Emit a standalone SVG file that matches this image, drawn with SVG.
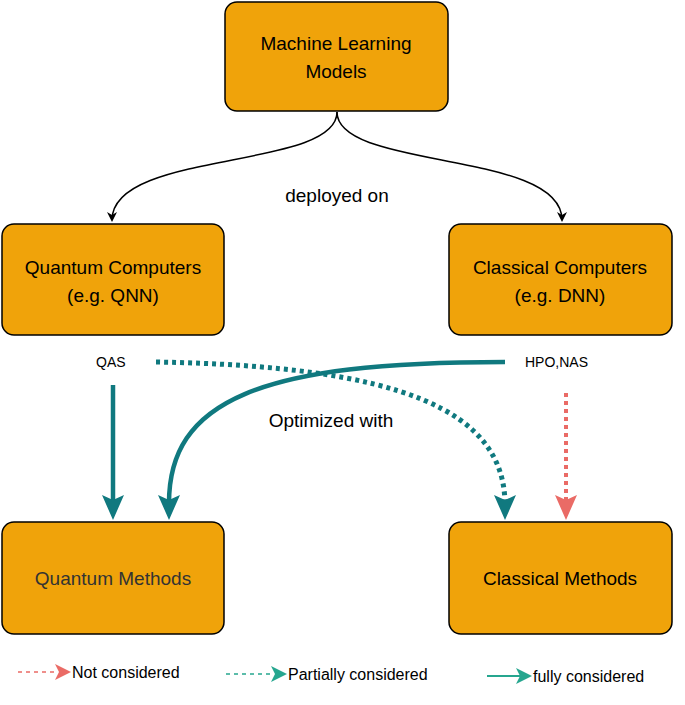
<svg xmlns="http://www.w3.org/2000/svg" width="685" height="705" viewBox="0 0 685 705">
<style>
.box{fill:#F0A30A;stroke:#000;stroke-width:1.5}
.t{font-family:"Liberation Sans",Arial,sans-serif;font-size:19px;fill:#000;text-anchor:middle}
.s{font-family:"Liberation Sans",Arial,sans-serif;font-size:15px;fill:#000}
.teal{fill:none;stroke:#10797F;stroke-width:4.5}
</style>
<defs>
<marker id="blk" markerWidth="10" markerHeight="10" refX="8" refY="5" orient="auto" markerUnits="userSpaceOnUse"><path d="M0,0 L10,5 L0,10 L3,5 Z" fill="#000"/></marker>
</defs>
<rect width="685" height="705" fill="#fff"/>
<g id="n-ml"><rect class="box" x="225" y="2" width="223" height="109" rx="12"/><text class="t" x="336" y="50">Machine Learning</text><text class="t" x="336" y="78">Models</text></g>
<g id="n-qc"><rect class="box" x="2" y="224" width="222" height="111" rx="12"/><text class="t" x="113" y="274">Quantum Computers</text><text class="t" x="113" y="302">(e.g. QNN)</text></g>
<g id="n-cc"><rect class="box" x="449" y="224" width="223" height="111" rx="12"/><text class="t" x="560" y="274">Classical Computers</text><text class="t" x="560" y="302">(e.g. DNN)</text></g>
<g id="n-qm"><rect class="box" x="2" y="522" width="222" height="112" rx="12"/><text class="t" x="113" y="585" fill="#333" style="fill:#333">Quantum Methods</text></g>
<g id="n-cm"><rect class="box" x="449" y="522" width="223" height="112" rx="12"/><text class="t" x="560" y="585">Classical Methods</text></g>
<g id="connectors">
<path d="M337,112 C337,170 112,150 112,220" fill="none" stroke="#000" stroke-width="1.5" marker-end="url(#blk)"/>
<path d="M337,112 C337,170 562,150 562,220" fill="none" stroke="#000" stroke-width="1.5" marker-end="url(#blk)"/>
<text class="t" x="337" y="202">deployed on</text>
<text class="s" x="96" y="367" style="font-size:14px">QAS</text>
<text class="s" x="525" y="367" style="font-size:14px">HPO,NAS</text>
<text class="t" x="331" y="427">Optimized with</text>
<path class="teal" d="M113,385 L113,505"/>
<path d="M102,495 L113,520 L124,495 L113,500 Z" fill="#10797F"/>
<path class="teal" d="M505,362 C260,362 168,400 169,505"/>
<path d="M158,495 L169,520 L180,495 L169,500 Z" fill="#10797F"/>
<path d="M156,362 C400,366 505,410 505,505" fill="none" stroke="#10797F" stroke-width="5" stroke-dasharray="4,4"/>
<path d="M494,495 L505,520 L516,495 L505,500 Z" fill="#10797F"/>
<path d="M566,393 L566,505" fill="none" stroke="#EA6B66" stroke-width="4" stroke-dasharray="4,4"/>
<path d="M555,495 L566,520 L577,495 L566,500 Z" fill="#EA6B66"/>
</g>
<g id="legend">
<path d="M18,672 L57,672" stroke="#EA6B66" stroke-width="1.5" stroke-dasharray="4,4"/>
<path d="M55,664 L71,672 L55,680 L59,672 Z" fill="#EA6B66"/>
<text class="s" x="72" y="678" style="font-size:16px">Not considered</text>
<path d="M226,674 L273,674" stroke="#26A68F" stroke-width="1.5" stroke-dasharray="4,4"/>
<path d="M271,666 L287,674 L271,682 L275,674 Z" fill="#26A68F"/>
<text class="s" x="288" y="680" style="font-size:16px">Partially considered</text>
<path d="M487,676 L520,676" stroke="#26A68F" stroke-width="2"/>
<path d="M516,668 L532,676 L516,684 L520,676 Z" fill="#26A68F"/>
<text class="s" x="533" y="682" style="font-size:16px">fully considered</text>
</g>
</svg>
